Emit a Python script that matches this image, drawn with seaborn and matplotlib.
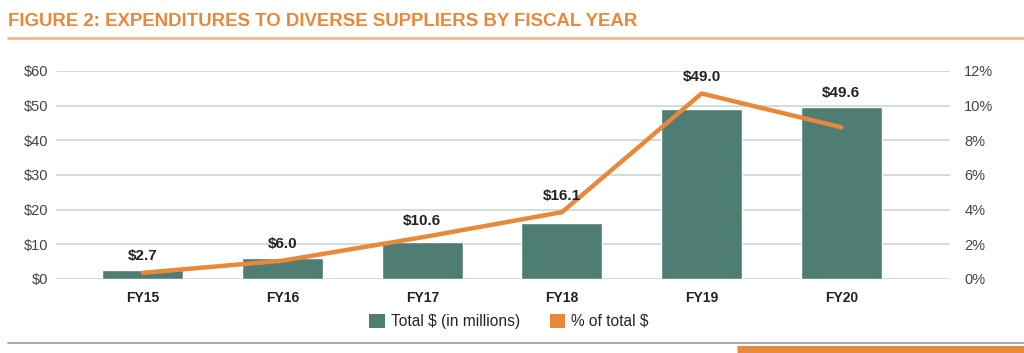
import pandas as pd
import seaborn as sns
import matplotlib.pyplot as plt
from matplotlib.patches import Patch
from matplotlib.lines import Line2D

# data
years = ['FY15', 'FY16', 'FY17', 'FY18', 'FY19', 'FY20']
total_millions = [2.7, 6.0, 10.6, 16.1, 49.0, 49.6]
pct_of_total = [0.35, 1.05, 2.4, 3.85, 10.7, 8.75]

df = pd.DataFrame({'year': years, 'total': total_millions, 'pct': pct_of_total})

teal = '#4E7D74'
orange = '#E8883A'
grid_c = '#C9D6D2'

sns.set_theme(style='white')
plt.rcParams['font.family'] = ['Liberation Sans', 'DejaVu Sans']

fig = plt.figure(figsize=(10.24, 3.53), dpi=100)
ax = fig.add_axes([0.055, 0.21, 0.873, 0.589])
xlim = (-0.62, 5.78)

sns.barplot(data=df, x='year', y='total', color=teal, width=0.58,
            saturation=1, ax=ax, zorder=2)
ax.set_ylim(0, 60)
ax.set_yticks(range(0, 61, 10))
ax.set_yticklabels([f'${v}' for v in range(0, 61, 10)], fontsize=10.5, color='#444444')
ax.set_xlim(*xlim)
ax.grid(axis='y', color=grid_c, linewidth=1.2, zorder=0)
ax.set_axisbelow(True)
ax.set_xlabel('')
ax.set_ylabel('')
for lbl in ax.get_xticklabels():
    lbl.set_fontweight('bold')
    lbl.set_fontsize(10)
    lbl.set_color('#222222')
ax.tick_params(axis='x', length=0, pad=9)
ax.tick_params(axis='y', length=0, pad=6)
for s in ax.spines.values():
    s.set_visible(False)

ax2 = ax.twinx()
sns.lineplot(data=df, x='year', y='pct', color=orange, linewidth=3.2, ax=ax2,
             sort=False, zorder=3)
ax2.set_ylim(0, 12)
ax2.set_yticks(range(0, 13, 2))
ax2.set_yticklabels([f'{v}%' for v in range(0, 13, 2)], fontsize=10.5, color='#444444')
ax2.set_xlim(*xlim)
ax2.set_ylabel('')
ax2.set_xlabel('')
ax2.tick_params(axis='y', length=0, pad=10)
for s in ax2.spines.values():
    s.set_visible(False)

# value labels sit above whichever is higher: the bar or the line
for i, (v, p) in enumerate(zip(total_millions, pct_of_total)):
    anchor = max(v / 5, p + 0.15)
    ax2.annotate(f'${v:.1f}', (i, anchor), xytext=(0, 5), textcoords='offset points',
                 ha='center', va='bottom', fontsize=11, fontweight='bold', color='#222222',
                 zorder=5)

handles = [Patch(facecolor=teal, edgecolor='none'), Patch(facecolor=orange, edgecolor='none')]
fig.legend(handles, ['Total $ (in millions)', '% of total $'], loc='center',
           bbox_to_anchor=(0.497, 0.09), ncol=2, frameon=False, fontsize=11.2,
           handlelength=1.0, handleheight=1.0, handletextpad=0.4, columnspacing=1.9)

fig.text(0.008, 0.94, 'FIGURE 2: EXPENDITURES TO DIVERSE SUPPLIERS BY FISCAL YEAR',
         fontsize=13.4, fontweight='bold', color=orange, va='center')
fig.add_artist(Line2D([0.008, 1.0], [0.893, 0.893], color='#F2B68C', linewidth=2))
fig.add_artist(Line2D([0.008, 1.0], [0.028, 0.028], color='#999999', linewidth=1.2))
fig.add_artist(Line2D([0.72, 1.0], [0.012, 0.012], color=orange, linewidth=5,
                      solid_capstyle='butt'))

fig.savefig('out.png', dpi=100)
